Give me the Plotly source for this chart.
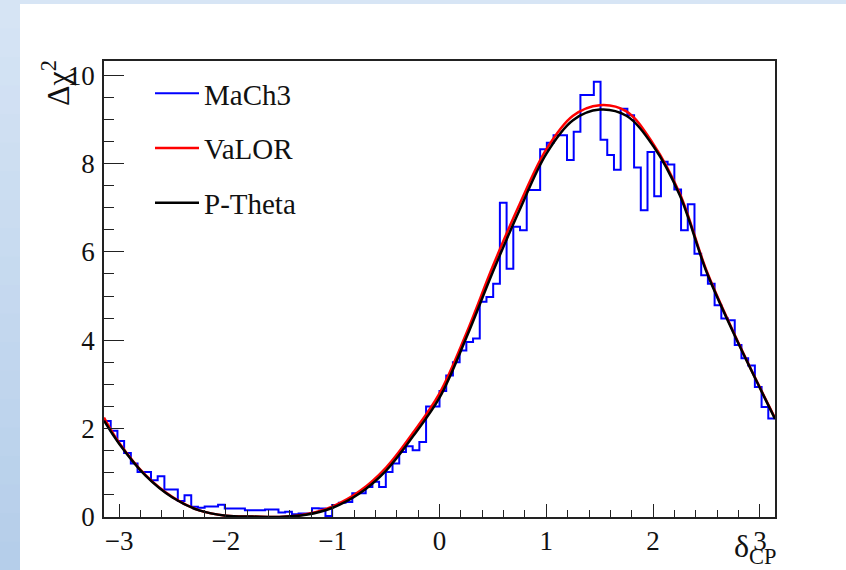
import numpy as np
import plotly.graph_objects as go

# ---------------- data ----------------
# MaCh3 histogram: 100 bins from -pi to pi
mach3_edges = np.linspace(-np.pi, np.pi, 101)
mach3_values = [
    2.17, 1.95, 1.72, 1.45, 1.21, 1.02, 1.02, 0.83, 0.92, 0.62,
    0.62, 0.36, 0.49, 0.23, 0.21, 0.24, 0.24, 0.28, 0.19, 0.19,
    0.19, 0.15, 0.15, 0.15, 0.17, 0.17, 0.10, 0.12, 0.06, 0.08,
    0.08, 0.20, 0.19, 0.02, 0.27, 0.32, 0.34, 0.54, 0.54, 0.68,
    0.80, 0.68, 1.02, 1.21, 1.47, 1.60, 1.51, 1.70, 2.50, 2.50,
    2.85, 3.20, 3.50, 3.77, 3.96, 4.04, 4.87, 4.98, 5.28, 7.11,
    5.62, 6.57, 6.49, 7.40, 7.40, 8.32, 8.47, 8.64, 8.64, 8.08,
    8.72, 9.55, 9.55, 9.85, 8.54, 8.19, 7.86, 9.24, 9.09, 7.91,
    6.94, 8.26, 7.26, 8.04, 7.98, 7.41, 6.49, 7.08, 5.96, 5.47,
    5.28, 4.79, 4.49, 4.45, 3.89, 3.59, 3.43, 2.94, 2.49, 2.23,
]

curve_x = [-3.1416, -3.0, -2.75, -2.5, -2.25, -2.0, -1.75, -1.5, -1.25, -1.0,
           -0.75, -0.5, -0.25, 0.0, 0.25, 0.5, 0.75, 1.0, 1.25, 1.5,
           1.75, 2.0, 2.25, 2.5, 2.75, 3.0, 3.1416]
valor_y = [2.25, 1.68, 0.94, 0.45, 0.15, 0.03, 0.01, 0.0, 0.06, 0.24,
           0.58, 1.12, 1.90, 2.80, 4.15, 5.68, 7.08, 8.32, 9.08, 9.32,
           9.18, 8.45, 7.32, 5.58, 4.20, 2.93, 2.24]
ptheta_y = [2.18, 1.66, 0.93, 0.44, 0.15, 0.03, 0.01, 0.0, 0.05, 0.21,
            0.53, 1.05, 1.82, 2.70, 4.05, 5.55, 6.95, 8.22, 8.98, 9.22,
            9.08, 8.40, 7.28, 5.55, 4.18, 2.92, 2.22]

x_ticks = [-3, -2, -1, 0, 1, 2, 3]
x_tick_labels = ["\u22123", "\u22122", "\u22121", "0", "1", "2", "3"]
y_ticks = [0, 2, 4, 6, 8, 10]

# ---------------- layout geometry ----------------
W, H = 846, 570
L, R, T, B = 104, 71, 61, 53
PW, PH = W - L - R, H - T - B


def pxx(px):
    return (px - L) / PW


def pxy(py):
    return (H - B - py) / PH


fig = go.Figure()

hist_x = list(mach3_edges)
hist_y = list(mach3_values) + [mach3_values[-1]]
fig.add_trace(go.Scatter(x=hist_x, y=hist_y, mode="lines", name="MaCh3",
                         line=dict(color="#0000ff", width=2, shape="hv"),
                         legendgroup="a"))
fig.add_trace(go.Scatter(x=curve_x, y=valor_y, mode="lines", name="VaLOR",
                         line=dict(color="#ff0000", width=2.5, shape="spline"),
                         legendgroup="b"))
fig.add_trace(go.Scatter(x=curve_x, y=ptheta_y, mode="lines", name="P-Theta",
                         line=dict(color="#000000", width=2.5, shape="spline"),
                         legendgroup="c"))

axis_color = "#222222"
font_family = "Liberation Serif, Times New Roman, serif"

fig.update_xaxes(range=[-np.pi, np.pi], tickvals=x_ticks, ticktext=x_tick_labels,
                 ticks="inside", ticklen=13, tickwidth=1.2, tickcolor=axis_color,
                 showline=True, linecolor=axis_color, linewidth=1.5, mirror=True,
                 showgrid=False, zeroline=False,
                 minor=dict(ticks="inside", ticklen=7, dtick=0.2, tick0=0,
                            tickcolor=axis_color, tickwidth=1.2, showgrid=False),
                 tickfont=dict(family=font_family, size=27, color="#111"),
                 ticklabelstandoff=-1)
fig.update_yaxes(range=[0, 10.32], tickvals=y_ticks,
                 ticks="inside", ticklen=20, tickwidth=1.2, tickcolor=axis_color,
                 showline=True, linecolor=axis_color, linewidth=1.5, mirror=True,
                 showgrid=False, zeroline=False,
                 minor=dict(ticks="inside", ticklen=10, dtick=0.5, tick0=0,
                            tickcolor=axis_color, tickwidth=1.2, showgrid=False),
                 tickfont=dict(family=font_family, size=27, color="#111"),
                 ticklabelstandoff=2)

# background: slide band on top and gradient strip on left
shapes = []
shapes.append(dict(type="rect", xref="paper", yref="paper", layer="below",
                   x0=pxx(0), x1=pxx(W), y0=pxy(4), y1=pxy(0),
                   fillcolor="#d7e5f5", line=dict(width=0)))
top_rgb = np.array([215, 229, 245])
bot_rgb = np.array([181, 206, 234])
nb = 20
for i in range(nb):
    f = (i + 0.5) / nb
    c = top_rgb + (bot_rgb - top_rgb) * f
    y0p = i * H / nb
    y1p = (i + 1) * H / nb + 1
    shapes.append(dict(type="rect", xref="paper", yref="paper", layer="below",
                       x0=pxx(0), x1=pxx(20), y0=pxy(y1p), y1=pxy(y0p),
                       fillcolor="rgb(%d,%d,%d)" % tuple(c.astype(int)),
                       line=dict(width=0)))

annotations = [
    dict(text="\u0394\u03c7<sup>2</sup>", xref="paper", yref="paper",
         x=pxx(56), y=pxy(58), xanchor="center", yanchor="top",
         textangle=-90, showarrow=False,
         font=dict(family=font_family, size=32, color="#111")),
    dict(text="\u03b4<sub>CP</sub>", xref="paper", yref="paper",
         x=pxx(778), y=pxy(571), xanchor="right", yanchor="bottom",
         showarrow=False,
         font=dict(family=font_family, size=32, color="#111")),
]

fig.update_layout(
    width=W, height=H,
    margin=dict(l=L, r=R, t=T, b=B),
    paper_bgcolor="white", plot_bgcolor="white",
    showlegend=True,
    legend=dict(x=pxx(150), y=pxy(68), xanchor="left", yanchor="top",
                bgcolor="rgba(0,0,0,0)", borderwidth=0,
                font=dict(family=font_family, size=29, color="#111"),
                tracegroupgap=14, itemwidth=44),
    shapes=shapes, annotations=annotations,
)

fig.write_html("out.html")
